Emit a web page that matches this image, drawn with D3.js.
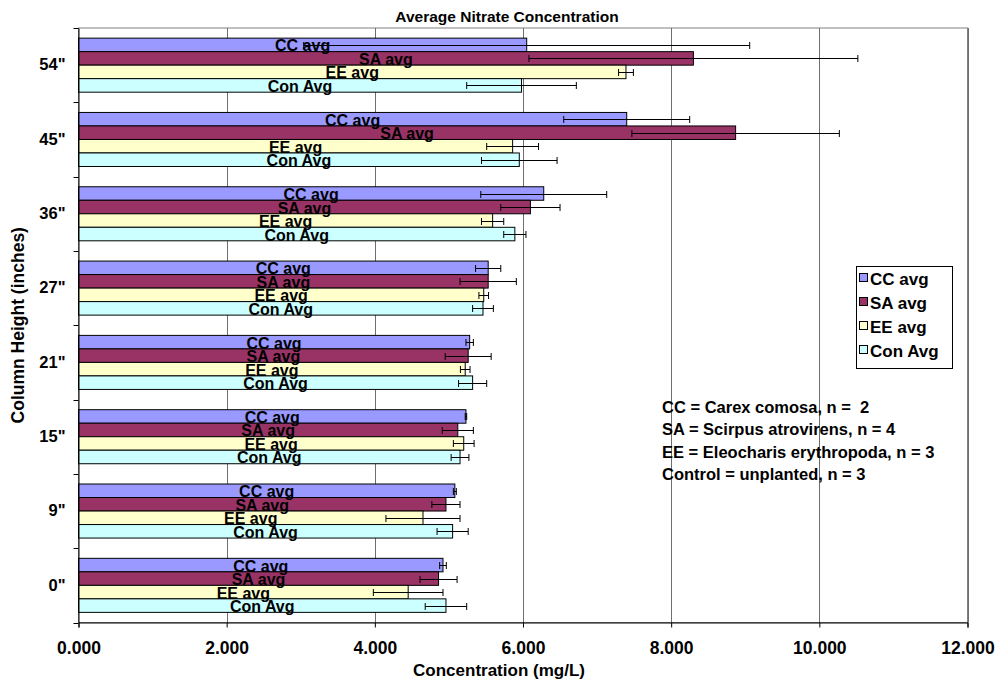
<!DOCTYPE html>
<html>
<head>
<meta charset="utf-8">
<script src="https://cdn.jsdelivr.net/npm/d3@7"></script>
<style>
  html, body { margin: 0; padding: 0; background: #fff; }
  svg { display: block; font-family: "Liberation Sans", Arial, sans-serif; font-weight: bold; }
</style>
</head>
<body>
<svg id="chart" width="997" height="684"></svg>
<script>
// ---------- data ----------
const categories = ['0"', '9"', '15"', '21"', '27"', '36"', '45"', '54"'];
const seriesNames = ["CC avg", "SA avg", "EE avg", "Con Avg"];
const seriesColors = ["#9999FF", "#993366", "#FFFFCC", "#CCFFFF"];
const ccAvg  = [4.92, 5.08, 5.23, 5.28, 5.53, 6.28, 7.40, 6.05];
const ccErr  = [0.045, 0.02, 0.01, 0.05, 0.17, 0.85, 0.85, 3.01];
const saAvg  = [4.86, 4.96, 5.12, 5.26, 5.53, 6.10, 8.87, 8.30];
const saErr  = [0.25, 0.19, 0.21, 0.31, 0.38, 0.40, 1.40, 2.22];
const eeAvg  = [4.45, 4.65, 5.20, 5.22, 5.47, 5.59, 5.86, 7.39];
const eeErr  = [0.47, 0.50, 0.14, 0.065, 0.065, 0.15, 0.35, 0.10];
const conAvg = [4.96, 5.05, 5.15, 5.32, 5.46, 5.89, 5.95, 5.98];
const conErr = [0.28, 0.21, 0.12, 0.19, 0.14, 0.15, 0.51, 0.74];
const xTicks = [0, 2, 4, 6, 8, 10, 12];
const notes = [
  "CC = Carex comosa, n =  2",
  "SA = Scirpus atrovirens, n = 4",
  "EE = Eleocharis erythropoda, n = 3",
  "Control = unplanted, n = 3"
];
const titleText = "Average Nitrate Concentration";
const xTitle = "Concentration (mg/L)";
const yTitle = "Column Height (inches)";

const seriesVals = [ccAvg, saAvg, eeAvg, conAvg];
const seriesErrs = [ccErr, saErr, eeErr, conErr];

// ---------- layout ----------
const pL = 78.5, pR = 967.5, pT = 28, pB = 622.5;
const svg = d3.select("#chart");

const x = d3.scaleLinear().domain([0, 12]).range([pL, pR]);
const y = d3.scaleBand().domain(categories.slice().reverse()).range([pT, pB]).padding(0);
const bw = y.bandwidth() / 5.5;
const sub = d3.scaleBand().domain(seriesNames).range([0.75 * bw, 4.75 * bw]).padding(0);

// plot border + gridlines
svg.append("rect").attr("x", pL).attr("y", pT).attr("width", pR - pL).attr("height", pB - pT)
  .attr("fill", "#fff").attr("stroke", "#808080").attr("stroke-width", 1);
svg.append("g").selectAll("line").data(xTicks.slice(1)).join("line")
  .attr("x1", d => Math.round(x(d)) + 0.5).attr("x2", d => Math.round(x(d)) + 0.5)
  .attr("y1", pT).attr("y2", pB)
  .attr("stroke", "#6e6e6e").attr("stroke-width", 1);

// bars
const data = [];
categories.forEach((c, i) => {
  seriesNames.forEach((s, j) => {
    data.push({ cat: c, series: s, color: seriesColors[j], v: seriesVals[j][i], e: seriesErrs[j][i] });
  });
});

const bars = svg.append("g");
bars.selectAll("rect").data(data).join("rect")
  .attr("x", x(0))
  .attr("y", d => y(d.cat) + sub(d.series))
  .attr("width", d => x(d.v) - x(0))
  .attr("height", sub.bandwidth())
  .attr("fill", d => d.color)
  .attr("stroke", "#000").attr("stroke-width", 1);

// bar labels
svg.append("g").selectAll("text").data(data).join("text")
  .attr("x", d => (x(0) + x(d.v)) / 2)
  .attr("y", d => y(d.cat) + sub(d.series) + sub.bandwidth() / 2 + 1)
  .attr("text-anchor", "middle").attr("dominant-baseline", "central")
  .attr("font-size", "16px").attr("fill", "#000")
  .text(d => d.series);

// error bars
const eg = svg.append("g").attr("stroke", "#000").attr("stroke-width", 1);
data.forEach(d => {
  const cy = Math.round(y(d.cat) + sub(d.series) + sub.bandwidth() / 2) + 0.5;
  const x1 = x(d.v - d.e), x2 = x(d.v + d.e);
  eg.append("line").attr("x1", x1).attr("x2", x2).attr("y1", cy).attr("y2", cy);
  [x1, x2].forEach(xx => eg.append("line").attr("x1", xx).attr("x2", xx).attr("y1", cy - 3.5).attr("y2", cy + 3.5));
});

// axes
const xAxis = d3.axisBottom(x).tickValues(xTicks).tickFormat(d3.format(".3f")).tickSizeOuter(0).tickSize(5).tickPadding(14);
const gx = svg.append("g").attr("transform", `translate(0,${pB})`).call(xAxis);
gx.select(".domain").attr("stroke", "#000");
gx.selectAll("text").attr("font-size", "17.5px").attr("font-family", "Liberation Sans, Arial, sans-serif").attr("font-weight", "bold").attr("fill", "#000");

const yAxis = d3.axisLeft(y).tickSize(0).tickPadding(13);
const gy = svg.append("g").attr("transform", `translate(${pL},0)`).call(yAxis);
gy.select(".domain").attr("stroke", "#000");
gy.selectAll("text").attr("font-size", "16.5px").attr("font-family", "Liberation Sans, Arial, sans-serif").attr("font-weight", "bold").attr("fill", "#000");
// category boundary ticks
const bounds = categories.map(c => y(c)).concat([pB]);
svg.append("g").selectAll("line").data(bounds).join("line")
  .attr("x1", pL - 5).attr("x2", pL).attr("y1", d => Math.round(d) + 0.5).attr("y2", d => Math.round(d) + 0.5)
  .attr("stroke", "#000");

// titles
svg.append("text").attr("x", 507).attr("y", 16).attr("text-anchor", "middle").attr("dominant-baseline", "central")
  .attr("font-size", "15.5px").text(titleText);
svg.append("text").attr("x", 499).attr("y", 670).attr("text-anchor", "middle").attr("dominant-baseline", "central")
  .attr("font-size", "17px").text(xTitle);
svg.append("text").attr("transform", `translate(18,${(pT + pB) / 2}) rotate(-90)`).attr("text-anchor", "middle")
  .attr("dominant-baseline", "central").attr("font-size", "17.5px").text(yTitle);

// legend
const lg = svg.append("g");
lg.append("rect").attr("x", 856.5).attr("y", 266.5).attr("width", 96).attr("height", 102)
  .attr("fill", "#fff").attr("stroke", "#000");
seriesNames.forEach((s, j) => {
  const cy = 278 + j * 24;
  lg.append("rect").attr("x", 859.5).attr("y", cy - 4.5).attr("width", 8).attr("height", 8)
    .attr("fill", seriesColors[j]).attr("stroke", "#000");
  lg.append("text").attr("x", 870).attr("y", cy + 1).attr("dominant-baseline", "central")
    .attr("font-size", "17px").text(s);
});

// notes
svg.append("g").selectAll("text").data(notes).join("text")
  .attr("x", 662).attr("y", (d, i) => 407 + i * 22.3).attr("dominant-baseline", "central")
  .attr("font-size", "16.5px").style("white-space", "pre").text(d => d);
</script>
</body>
</html>
